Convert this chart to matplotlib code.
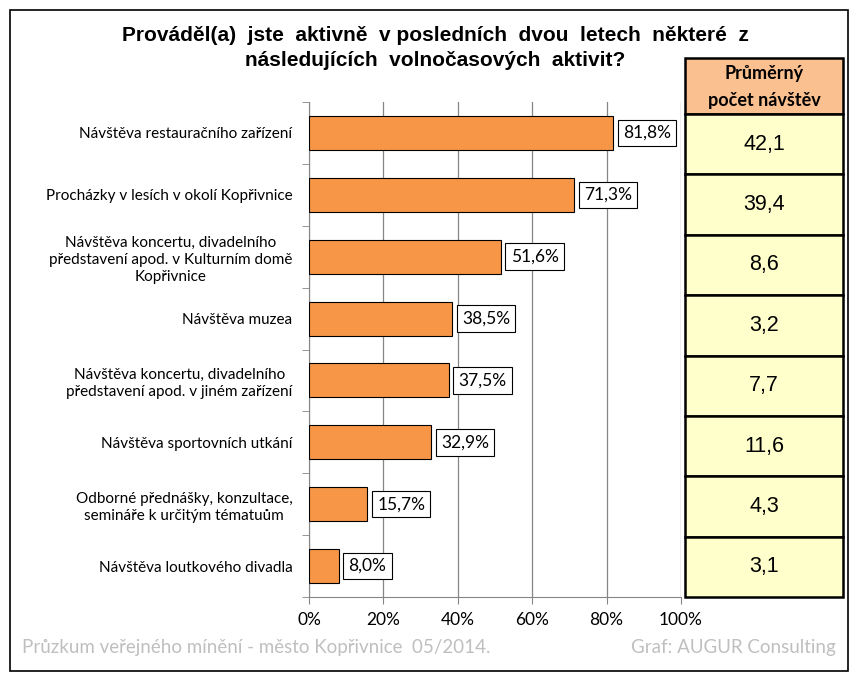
"""
Recreate the AUGUR survey chart: leisure activities (share of respondents)
with a side table of average visit counts.
"""

import matplotlib
matplotlib.use("Agg")
import matplotlib.pyplot as plt
import numpy as np
from matplotlib.patches import Rectangle
from matplotlib.ticker import FixedLocator, FuncFormatter

# ---------------------------------------------------------------
# Data
# ---------------------------------------------------------------
TITLE = "Prováděl(a)  jste  aktivně  v posledních  dvou  letech  některé  z\nnásledujících  volnočasových  aktivit?"

categories = [
    "Návštěva restauračního zařízení",
    "Procházky v lesích v okolí Kopřivnice",
    "Návštěva koncertu, divadelního\npředstavení apod. v Kulturním domě\nKopřivnice",
    "Návštěva muzea",
    "Návštěva koncertu, divadelního\npředstavení apod. v jiném zařízení",
    "Návštěva sportovních utkání",
    "Odborné přednášky, konzultace,\nsemináře k určitým tématuům",
    "Návštěva loutkového divadla",
]
share_pct = [81.8, 71.3, 51.6, 38.5, 37.5, 32.9, 15.7, 8.0]
avg_visits = [42.1, 39.4, 8.6, 3.2, 7.7, 11.6, 4.3, 3.1]
x_ticks = [0, 20, 40, 60, 80, 100]

TABLE_HEADER = "Průměrný\npočet návštěv"
FOOTER_LEFT = "Průzkum veřejného mínění - město Kopřivnice  05/2014."
FOOTER_RIGHT = "Graf: AUGUR Consulting"

W, H = 864, 683
BAR_COLOR = "#F79646"
GRID_COLOR = "#868686"
BODY_FONT = ["Lato", "DejaVu Sans"]
TITLE_FONT = ["Liberation Sans Narrow", "Liberation Sans", "DejaVu Sans"]


def px_box(x0, y0, x1, y1):
    """Pixel box (top-left origin) -> figure axes rect."""
    return [x0 / W, 1 - y1 / H, (x1 - x0) / W, (y1 - y0) / H]


def comma(v, digits=1):
    return f"{v:.{digits}f}".replace(".", ",")


fig = plt.figure(figsize=(W / 100, H / 100), dpi=100)

# outer frame
fig.patches.append(Rectangle((10 / W, 1 - 671 / H), 838 / W, 661 / H,
                             transform=fig.transFigure, fill=False,
                             edgecolor="black", lw=1.2))

fig.text(435 / W, 1 - 48 / H, TITLE, ha="center", va="center",
         fontsize=15, fontweight="bold", family=TITLE_FONT, linespacing=1.45)

# ---------------------------------------------------------------
# Bars
# ---------------------------------------------------------------
ax = fig.add_axes(px_box(309, 102, 681, 597))
y = np.arange(len(categories))
ax.barh(y, share_pct, height=0.55, color=BAR_COLOR, edgecolor="black",
        lw=0.8, zorder=3)
ax.set_xlim(0, 100)
ax.set_ylim(len(categories) - 0.5, -0.5)

for yi, v in zip(y, share_pct):
    ax.annotate(f"{comma(v)}%", (v, yi), xytext=(7, 0),
                textcoords="offset points", ha="left", va="center",
                fontsize=12.5, family=BODY_FONT, zorder=4,
                bbox=dict(boxstyle="square,pad=0.3", fc="white",
                          ec="black", lw=0.8))

ax.set_yticks(y)
ax.set_yticklabels(categories, fontsize=11, family=BODY_FONT,
                   multialignment="center", linespacing=1.3)
ax.yaxis.set_minor_locator(FixedLocator(np.arange(-0.5, len(categories), 1)))
ax.tick_params(axis="y", which="major", length=0, pad=12)
ax.tick_params(axis="y", which="minor", length=5, color=GRID_COLOR)

ax.set_xticks(x_ticks)
ax.xaxis.set_major_formatter(FuncFormatter(lambda v, _: f"{v:.0f}%"))
ax.tick_params(axis="x", length=5, color=GRID_COLOR, labelsize=12.5, pad=6)
for lab in ax.get_xticklabels():
    lab.set_family(BODY_FONT)

ax.grid(axis="x", color=GRID_COLOR, lw=0.9, zorder=0)
for side in ("top", "right"):
    ax.spines[side].set_visible(False)
for side in ("left", "bottom"):
    ax.spines[side].set_color(GRID_COLOR)

# ---------------------------------------------------------------
# Side table
# ---------------------------------------------------------------
tx0, tx1, head_top, head_bot, tab_bot = 685, 843, 58, 114, 597
tax = fig.add_axes(px_box(tx0, head_top, tx1, tab_bot))
tax.set_xlim(0, 1)
tax.set_ylim(tab_bot, head_top)
tax.axis("off")

tax.add_patch(Rectangle((0, head_top), 1, head_bot - head_top,
                        fc="#FAC090", ec="black", lw=1.8, clip_on=False))
tax.text(0.5, (head_top + head_bot) / 2 + 1, TABLE_HEADER, ha="center",
         va="center", fontsize=13, fontweight="bold", family=BODY_FONT,
         linespacing=1.65)

row_h = (tab_bot - head_bot) / len(avg_visits)
for i, v in enumerate(avg_visits):
    top = head_bot + i * row_h
    tax.add_patch(Rectangle((0, top), 1, row_h, fc="#FFFFCC", ec="black",
                            lw=1.8, clip_on=False))
    tax.text(0.5, top + row_h / 2, comma(v), ha="center", va="center",
             fontsize=15.5, family=["Liberation Sans", "DejaVu Sans"])

# ---------------------------------------------------------------
# Footer
# ---------------------------------------------------------------
fig.text(22 / W, 1 - 648 / H, FOOTER_LEFT, ha="left", va="center",
         fontsize=13.5, color="#BFBFBF", family=BODY_FONT)
fig.text(836 / W, 1 - 648 / H, FOOTER_RIGHT, ha="right", va="center",
         fontsize=13.5, color="#BFBFBF", family=BODY_FONT)

fig.savefig("out.png", dpi=100)
